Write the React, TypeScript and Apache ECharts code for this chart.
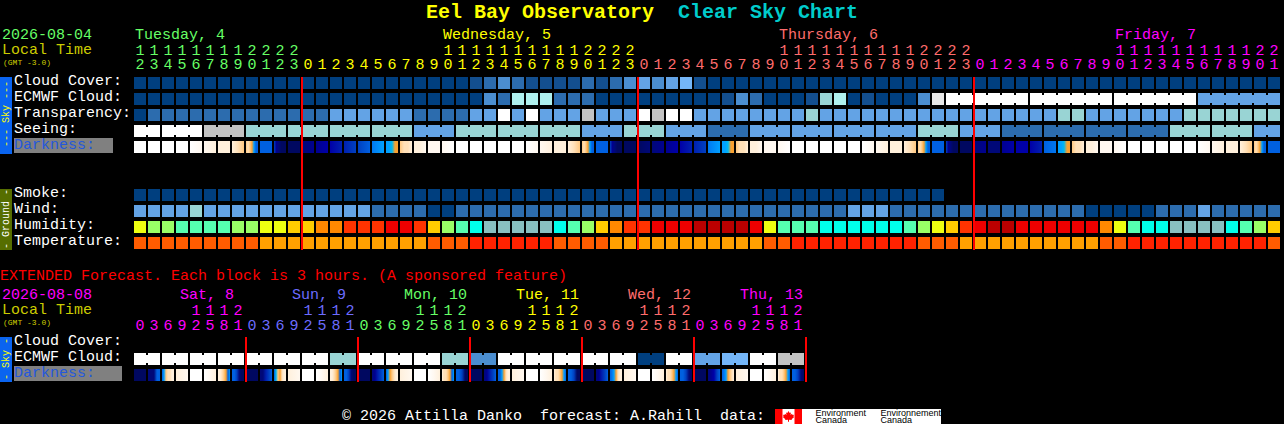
import React, { useEffect, useRef } from "react";
import * as echarts from "echarts";

// ---------- palettes (data levels -> colours) ----------
const skyPalette = ["#003f7f", "#134f8f", "#2c6cae", "#4b8ed0", "#63a3e5", "#74b6f8", "#99d4d4", "#aff0ee", "#c3c3c3", "#e8e8e8", "#ffffff"];
const humidityPalette = ["#eeff11", "#99ff66", "#55ffb0", "#00ffea", "#88c0c0", "#ffcc00", "#ff8800", "#ff3300", "#ee0000", "#bb0000"];
const temperaturePalette = ["#ff5c00", "#ffa000", "#ff2200"];
const darknessPalette = ["#ffffff", "#fff8f0", "#fff0dc", "#ffe0b8", "#ffc880", "#f8a030", "#00b8f0", "#00a0ff", "#0078f0", "#0060e0", "#0040c0", "#0020b0", "#0000a8", "#000090", "#000878", "#000860"];

// ---------- hourly forecast ----------
const cloudCover = [
  0, 0, 0, 0, 0, 0, 0, 0, 0, 0, 0, 0, 0, 0, 0, 0, 0, 0, 0, 0, 0, 0, 0, 0,
  1, 2, 3, 2, 1, 1, 1, 1, 2, 1, 2, 3, 4, 3, 4, 5, 1, 0, 0, 0, 0, 0, 0, 0,
  0, 0, 0, 0, 0, 0, 0, 0, 0, 0, 0, 0, 0, 0, 0, 0, 0, 0, 0, 0, 0, 0, 0, 0,
  0, 0, 0, 0, 0, 0, 0, 0, 0, 0,
];
const ecmwfCloud = [
  0, 0, 0, 0, 0, 0, 0, 0, 0, 0, 0, 0, 0, 0, 0, 0, 0, 0, 0, 0, 0, 0, 0, 0,
  0, 3, 2, 7, 7, 7, 2, 2, 2, 0, 0, 0, 0, 0, 0, 0, 0, 0, 1, 3, 2, 0, 0, 0,
  1, 6, 7, 0, 1, 0, 0, 0, 3, 9, 10, 10, 10, 10, 10, 10, 10, 10, 10, 10, 10, 10, 10, 10,
  10, 10, 10, 10, 4, 4, 4, 4, 4, 4,
];
const ecmwfGroups = [
  1, 1, 1, 1, 1, 1, 1, 1, 1, 1, 1, 1, 1, 1, 1, 1, 1, 1, 1, 1, 1, 1, 1, 1, 1, 1, 1, 1, 1,
  1, 1, 1, 1, 1, 1, 1, 1, 1, 1, 1, 1, 1, 1, 1, 1, 1, 1, 1, 1, 1, 1, 1, 1, 1, 1, 1, 1, 1,
  6, 6, 6, 6,
];
const transparency = [
  0, 2, 2, 2, 2, 2, 2, 2, 2, 2, 2, 2, 2, 2, 4, 4, 4, 4, 4, 4, 2, 2, 2, 2,
  4, 4, 10, 4, 10, 4, 4, 4, 8, 4, 4, 4, 10, 8, 10, 10, 4, 4, 4, 4, 4, 4, 4, 4,
  6, 4, 4, 4, 4, 4, 4, 4, 4, 4, 4, 4, 4, 4, 4, 4, 4, 4, 6, 6, 4, 4, 4, 4,
  4, 4, 4, 6, 6, 6, 6, 6, 6, 6,
];
const seeing = [
  10, 10, 10, 10, 10, 8, 8, 8, 6, 6, 6, 6, 6, 6, 6, 6, 6, 6, 6, 6, 4, 4, 4, 6,
  6, 6, 6, 6, 6, 6, 6, 6, 4, 4, 4, 6, 6, 6, 4, 4, 4, 2, 2, 2, 4, 4, 4, 4,
  4, 4, 4, 4, 4, 4, 4, 4, 6, 6, 6, 4, 4, 4, 2, 2, 2, 2, 2, 2, 2, 2, 2, 2,
  2, 2, 6, 6, 6, 6, 6, 6, 4, 4,
];
const seeingGroups = [2, 3, 3, 3, 3, 3, 3, 3, 3, 3, 3, 3, 3, 3, 3, 3, 3, 3, 3, 3, 3, 3, 3, 3, 3, 3, 3, 2];
// each string lists the darkness levels met from the left to the right of one block
const darkness = [
  "0", "0", "0", "0", "01", "12", "2", "234", "4345799", "9", "adefff", "f",
  "ed", "dc", "cb", "ba", "a9", "87", "77655", "4332", "221", "1", "10", "0",
  "0", "0", "0", "0", "01", "12", "2", "234", "4345799", "9", "adefff", "f",
  "fe", "ed", "dc", "cb", "ba", "87", "77655", "4332", "221", "1", "10", "0",
  "0", "0", "0", "0", "01", "12", "2", "234", "4345799", "9", "adefff", "f",
  "ed", "e", "dc", "c", "cb", "98", "77655", "4332", "221", "1", "10", "0",
  "0", "0", "0", "0", "01", "12", "2", "234", "4345799", "9",
];
const smoke = [
  0, 0, 0, 0, 0, 0, 0, 0, 0, 0, 0, 0, 0, 0, 0, 0, 0, 0, 0, 0, 0, 0, 0, 0,
  0, 0, 0, 0, 0, 0, 0, 0, 0, 0, 0, 0, 0, 0, 0, 0, 0, 0, 0, 0, 0, 0, 0, 0,
  0, 0, 0, 0, 0, 0, 0, 0, 0, 0,
];
const wind = [
  4, 4, 4, 4, 6, 4, 4, 4, 4, 4, 4, 4, 4, 4, 4, 4, 4, 2, 2, 2, 2, 0, 0, 2,
  2, 2, 2, 2, 2, 2, 2, 2, 2, 2, 2, 2, 2, 2, 2, 2, 2, 2, 2, 2, 2, 2, 2, 2,
  2, 2, 2, 4, 4, 4, 2, 2, 2, 2, 2, 2, 2, 2, 2, 2, 2, 2, 2, 2, 0, 0, 0, 0,
  0, 2, 2, 2, 4, 2, 2, 2, 2, 2,
];
const humidity = [
  0, 1, 1, 2, 2, 2, 2, 1, 1, 0, 0, 5, 5, 6, 6, 7, 7, 7, 8, 8, 7, 5, 1, 2,
  3, 4, 4, 4, 4, 4, 3, 2, 1, 5, 6, 7, 7, 8, 8, 8, 9, 9, 9, 9, 8, 0, 2, 2,
  2, 3, 3, 3, 3, 3, 3, 2, 1, 0, 5, 7, 8, 9, 9, 8, 8, 8, 8, 8, 8, 6, 0, 2,
  3, 3, 4, 4, 4, 4, 3, 2, 1, 5,
];
const temperature = [
  0, 0, 0, 0, 0, 0, 0, 0, 0, 1, 1, 1, 1, 1, 1, 1, 1, 1, 1, 1, 1, 0, 0, 0,
  2, 2, 2, 2, 2, 2, 0, 0, 0, 0, 1, 1, 1, 1, 1, 1, 1, 1, 1, 1, 1, 0, 0, 2,
  2, 2, 2, 2, 2, 2, 2, 2, 0, 0, 0, 1, 1, 1, 1, 1, 1, 1, 1, 1, 1, 0, 0, 2,
  2, 2, 2, 2, 2, 2, 2, 2, 2, 0,
];

// ---------- hourly axis ----------
const dayColors = { tue: "#66ff66", wed: "#ffff00", thu: "#ff6c6c", fri: "#ff00ff" };
const mainDays = [
  { key: "tue", label: "Tuesday, 4", column: 0, tens: "111111112222", ones: "234567890123" },
  { key: "wed", label: "Wednesday, 5", column: 22, tens: "          11111111112222", ones: "012345678901234567890123" },
  { key: "thu", label: "Thursday, 6", column: 46, tens: "          11111111112222", ones: "012345678901234567890123" },
  { key: "fri", label: "Friday, 7", column: 70, tens: "          111111111122", ones: "0123456789012345678901" },
];
const mainBoundaries = [11, 35, 59];
const mainRows = ["Cloud Cover:", "ECMWF Cloud:", "Transparency:", "Seeing:", "Darkness:", "", "", "Smoke:", "Wind:", "Humidity:", "Temperature:"];

// ---------- extended forecast ----------
const extEcmwf = [
  10, 10, 10, 10, 10, 10, 10, 10, 10, 10, 10, 10, 10, 10, 6, 6,
  10, 10, 10, 10, 10, 10, 6, 6, 3, 3, 10, 10, 10, 10, 10, 10,
  10, 10, 10, 10, 0, 0, 10, 10, 4, 4, 5, 5, 10, 10, 8, 8,
];
const extEcmwfGroups = [2, 2, 2, 2, 2, 2, 2, 2, 2, 2, 2, 2, 2, 2, 2, 2, 2, 2, 2, 2, 2, 2, 2, 2];
const extDarkness = [
  "f", "eee99", "9743322", "21", "0", "012", "2234597", "99aeff",
  "f", "eeba9", "9645322", "21", "0", "012", "2234597", "99aeff",
  "f", "edba9", "9754322", "21", "0", "012", "2334597", "99aff",
  "f", "edba9", "9975322", "21", "0", "012", "2334579", "99aff",
  "f", "edba9", "9875322", "21", "0", "012", "2334579", "99aef",
  "f", "edca9", "9875432", "21", "0", "012", "2334579", "99aef",
];
const extDayLabels = ["Sat, 8", "Sun, 9", "Mon, 10", "Tue, 11", "Wed, 12", "Thu, 13"];
const extDayColors = ["#ff00ff", "#6c6cff", "#66ff66", "#ffff00", "#ff6c6c", "#ff00ff"];
const extTens = "    1112";
const extOnes = "03692581";
const extBoundaries = [7, 15, 23, 31, 39, 47];
const extRows = ["Cloud Cover:", "ECMWF Cloud:", "Darkness:"];

// ---------- texts ----------
const titleName = "Eel Bay Observatory";
const titleChart = "Clear Sky Chart";
const mainDate = "2026-08-04";
const extDate = "2026-08-08";
const localTime = "Local Time";
const gmtNote = "(GMT -3.0)";
const extNote = "EXTENDED Forecast. Each block is 3 hours. (A sponsored feature)";
const credit = "\u00a9 2026 Attilla Danko  forecast: A.Rahill  data:";

const MONO = '"Liberation Mono", monospace';
const FONT = `15px ${MONO}`;
const DARK_LABEL = "#2458dc";

const joinsFromGroups = (groups: number[]) => {
  const joins: number[] = [];
  groups.forEach((g) => {
    for (let i = 0; i < g; i++) joins.push(i < g - 1 ? 1 : 0);
  });
  return joins;
};

const levelSeries = (name: string, values: number[], palette: string[], row: number, axis: number, joins?: number[]) => ({
  type: "custom",
  name,
  xAxisIndex: axis === 0 ? 0 : 2,
  yAxisIndex: axis,
  silent: true,
  z: 2,
  encode: { x: 0, y: 1 },
  data: values.map((v, i) => [i, row, v, joins ? joins[i] : 0]),
  renderItem: (_: any, api: any) => {
    const [cx, cy] = api.coord([api.value(0), api.value(1)]);
    const fill = palette[api.value(2)];
    const children: any[] = [
      { type: "rect", shape: { x: cx - 6, y: cy - 6, width: 12, height: 12 }, style: { fill } },
    ];
    if (api.value(3)) {
      children.push({ type: "rect", shape: { x: cx + 6, y: cy - 4, width: 2, height: 8 }, style: { fill } });
    }
    return { type: "group", children };
  },
});

const darknessSeries = (name: string, values: string[], row: number, axis: number) => ({
  type: "custom",
  name,
  xAxisIndex: axis === 0 ? 0 : 2,
  yAxisIndex: axis,
  silent: true,
  z: 2,
  encode: { x: 0, y: 1 },
  data: values.map((_, i) => [i, row]),
  renderItem: (params: any, api: any) => {
    const [cx, cy] = api.coord([api.value(0), api.value(1)]);
    const levels = values[params.dataIndex].split("").map((c) => darknessPalette[parseInt(c, 16)]);
    const fill: any =
      levels.length === 1
        ? levels[0]
        : {
            type: "linear",
            x: 0,
            y: 0,
            x2: 1,
            y2: 0,
            global: false,
            colorStops: levels.map((color, i) => ({ offset: i / (levels.length - 1), color })),
          };
    return { type: "rect", shape: { x: cx - 6, y: cy - 6, width: 12, height: 12 }, style: { fill } };
  },
});

const boundarySeries = (name: string, columns: number[], firstRow: number, lastRow: number, axis: number) => ({
  type: "custom",
  name,
  xAxisIndex: axis === 0 ? 0 : 2,
  yAxisIndex: axis,
  silent: true,
  z: 5,
  encode: { x: 0, y: 1 },
  data: columns.map((c) => [c, firstRow]),
  renderItem: (_: any, api: any) => {
    const [cx, top] = api.coord([api.value(0), firstRow]);
    const [, bottom] = api.coord([api.value(0), lastRow]);
    return {
      type: "rect",
      shape: { x: cx + 7, y: top - 6, width: 2, height: bottom - top + 13 },
      style: { fill: "#ff0000" },
    };
  },
});

// a category item's textStyle hides align and verticalAlign of axisLabel, so they go here
const labelItem = (value: string, color: string) => ({
  value,
  textStyle: { color, align: "center", verticalAlign: "middle", fontFamily: MONO, fontSize: 15 },
});

const mainOnes = mainDays.flatMap((d) => d.ones.split("").map((c) => labelItem(c, (dayColors as any)[d.key])));
const mainTens = mainDays.flatMap((d) => d.tens.split("").map((c) => labelItem(c.trim(), (dayColors as any)[d.key])));
const extOnesAxis = extDayColors.flatMap((color) => extOnes.split("").map((c) => labelItem(c, color)));
const extTensAxis = extDayColors.flatMap((color) => extTens.split("").map((c) => labelItem(c.trim(), color)));

const hourAxis = (gridIndex: number, data: any[], margin: number) => ({
  type: "category",
  gridIndex,
  position: "top",
  data,
  boundaryGap: true,
  axisLine: { show: false },
  axisTick: { show: false },
  splitLine: { show: false },
  axisPointer: { show: false },
  axisLabel: {
    show: true,
    interval: 0,
    margin,
    fontFamily: MONO,
    fontSize: 15,
    verticalAlign: "middle",
    align: "center",
    hideOverlap: false,
  },
});

// bottom alignment with a short line box lifts the row names about 2px above the block centres
const rowAxis = (gridIndex: number, rows: string[]) => ({
  type: "category",
  gridIndex,
  inverse: true,
  data: rows.map((r) => ({
    value: r,
    textStyle: {
      color: r === "Darkness:" ? DARK_LABEL : "#ffffff",
      align: "left",
      verticalAlign: "bottom",
      lineHeight: 4,
      fontFamily: MONO,
      fontSize: 15,
    },
  })),
  axisLine: { show: false },
  axisTick: { show: false },
  splitLine: { show: false },
  axisLabel: {
    show: true,
    interval: 0,
    margin: 119,
    align: "left",
    verticalAlign: "bottom",
    lineHeight: 4,
    fontFamily: MONO,
    fontSize: 15,
  },
});

const text = (value: string, x: number, y: number, fill: string, font: string = FONT, extra: any = {}) => ({
  type: "text",
  x,
  y,
  z: 3,
  silent: true,
  style: { text: value, fill, font, verticalAlign: "middle", ...extra },
});

const rect = (x: number, y: number, width: number, height: number, fill: string) => ({
  type: "rect",
  z: 0,
  silent: true,
  shape: { x, y, width, height },
  style: { fill },
});

const sideLabel = (value: string, cx: number, cy: number, fill: string) => ({
  type: "text",
  x: cx,
  y: cy,
  rotation: Math.PI / 2,
  z: 3,
  silent: true,
  style: { text: value, fill, font: `10px ${MONO}`, align: "center", verticalAlign: "middle" },
});

const mapleLeaf = [
  [788.5, 411], [789.7, 413], [791, 412.4], [790.5, 415], [792, 413.8], [792.6, 415], [794, 414.8], [793.4, 416.6], [794.2, 417],
  [791.6, 419.2], [792, 420], [789, 419.7], [789, 421.8], [788, 421.8], [788, 419.7], [785, 420], [785.4, 419.2], [782.8, 417],
  [783.6, 416.6], [783, 414.8], [784.4, 415], [785, 413.8], [786.5, 415], [786, 412.4], [787.3, 413],
];

const graphics = [
  text(titleName, 426, 12, "#ffff00", `bold 20px ${MONO}`),
  text(titleChart, 678, 12, "#00cccc", `bold 20px ${MONO}`),
  text(mainDate, 2, 35, "#66ff66"),
  text(localTime, 2, 50, "#cccc00"),
  text(gmtNote, 3, 62, "#cccc00", `8px ${MONO}`),
  ...mainDays.map((d) => text(d.label, 135 + 14 * d.column, 35, (dayColors as any)[d.key])),
  rect(0, 77, 12, 77, "#0a64f0"),
  sideLabel("--- Sky ---", 6, 114, "#ffff00"),
  rect(0, 189, 12, 61, "#566e00"),
  sideLabel("- Ground -", 6, 219, "#ffffff"),
  rect(14, 138, 99, 15, "#808080"),
  text(extNote, 0, 276, "#ff0000"),
  text(extDate, 2, 295, "#ff00ff"),
  text(localTime, 2, 310, "#cccc00"),
  text(gmtNote, 3, 322, "#cccc00", `8px ${MONO}`),
  ...extDayLabels.map((d, i) => text(d, 180 + 112 * i, 295, extDayColors[i])),
  rect(0, 337, 12, 45, "#0a64f0"),
  sideLabel("- Sky -", 6, 359, "#ffff00"),
  rect(14, 366, 108, 15, "#808080"),
  text(credit, 342, 416, "#ffffff"),
  rect(775, 409, 166, 15, "#ffffff"),
  rect(775, 409, 7.5, 15, "#ff0000"),
  rect(794.5, 409, 7.5, 15, "#ff0000"),
  { type: "polygon", z: 3, silent: true, shape: { points: mapleLeaf }, style: { fill: "#ff0000" } },
  text("Environment", 815.5, 412.5, "#000000", `9px "Liberation Sans"`),
  text("Canada", 815.5, 420, "#000000", `9px "Liberation Sans"`),
  text("Environnement", 880.5, 412.5, "#000000", `9px "Liberation Sans"`),
  text("Canada", 880.5, 420, "#000000", `9px "Liberation Sans"`),
];

export default function App() {
  const ref = useRef<HTMLDivElement>(null);
  useEffect(() => {
    document.body.style.margin = "0";
    document.body.style.background = "#000";
    const chart = echarts.init(ref.current as HTMLDivElement, undefined, { renderer: "svg", width: 1284, height: 424 });
    chart.setOption({
      animation: false,
      backgroundColor: "#000000",
      tooltip: { show: false },
      grid: [
        { left: 133, top: 75, width: 14 * 82, height: 16 * 11, outerBoundsMode: "none", containLabel: false },
        { left: 133, top: 335, width: 14 * 48, height: 16 * 3, outerBoundsMode: "none", containLabel: false },
      ],
      xAxis: [
        hourAxis(0, mainOnes, 10),
        hourAxis(0, mainTens, 24),
        hourAxis(1, extOnesAxis, 9),
        hourAxis(1, extTensAxis, 24),
      ],
      yAxis: [rowAxis(0, mainRows), rowAxis(1, extRows)],
      graphic: { elements: graphics },
      series: [
        levelSeries("Cloud Cover", cloudCover, skyPalette, 0, 0),
        levelSeries("ECMWF Cloud", ecmwfCloud, skyPalette, 1, 0, joinsFromGroups(ecmwfGroups)),
        levelSeries("Transparency", transparency, skyPalette, 2, 0),
        levelSeries("Seeing", seeing, skyPalette, 3, 0, joinsFromGroups(seeingGroups)),
        darknessSeries("Darkness", darkness, 4, 0),
        levelSeries("Smoke", smoke, skyPalette, 7, 0),
        levelSeries("Wind", wind, skyPalette, 8, 0),
        levelSeries("Humidity", humidity, humidityPalette, 9, 0),
        levelSeries("Temperature", temperature, temperaturePalette, 10, 0),
        boundarySeries("Day boundaries", mainBoundaries, 0, 10, 0),
        levelSeries("Extended ECMWF Cloud", extEcmwf, skyPalette, 1, 1, joinsFromGroups(extEcmwfGroups)),
        darknessSeries("Extended Darkness", extDarkness, 2, 1),
        boundarySeries("Extended day boundaries", extBoundaries, 0, 2, 1),
      ],
    });
    return () => chart.dispose();
  }, []);
  return <div ref={ref} style={{ width: 1284, height: 424, position: "absolute", left: 0, top: 0 }} />;
}
